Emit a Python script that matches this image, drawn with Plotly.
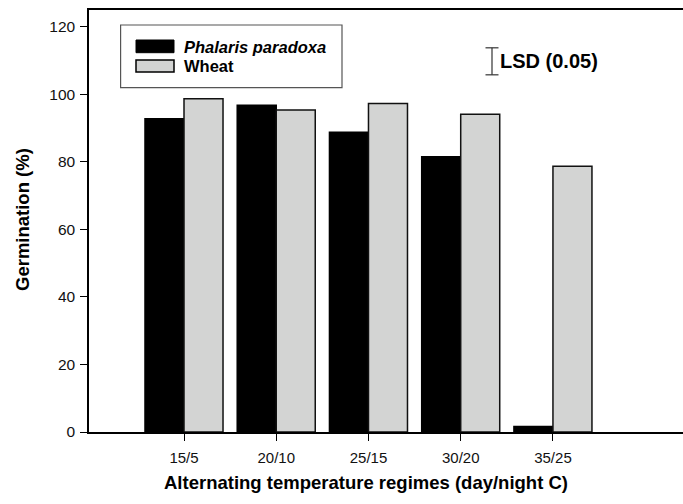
import plotly.graph_objects as go

categories = ["15/5", "20/10", "25/15", "30/20", "35/25"]
phalaris = [92.8, 96.8, 88.8, 81.5, 1.6]
wheat = [98.7, 95.4, 97.3, 94.1, 78.7]
series_names = ["Phalaris paradoxa", "Wheat"]
lsd_value = 8.0
lsd_center = 109.8
y_ticks = [0, 20, 40, 60, 80, 100, 120]

BLACK = "#000000"
GRAY = "#d3d4d3"
FONT = "Liberation Sans, Arial, sans-serif"

fig = go.Figure()
fig.add_trace(go.Bar(x=categories, y=phalaris, name=series_names[0],
                     marker=dict(color=BLACK, line=dict(color=BLACK, width=1.5))))
fig.add_trace(go.Bar(x=categories, y=wheat, name=series_names[1],
                     marker=dict(color=GRAY, line=dict(color="#111111", width=1.5))))

W, H = 683, 504
ml, mr, mt, mb = 89, 0, 10, 72
pw, ph = W - ml - mr, H - mt - mb

def px(x):
    return (x - ml) / pw

def py(y):
    return (H - mb - y) / ph

shapes = []
annotations = []
# legend box
shapes.append(dict(type="rect", xref="paper", yref="paper",
                   x0=px(120.6), x1=px(342), y0=py(87.7), y1=py(25),
                   line=dict(color="#555555", width=1.2), fillcolor="white", layer="above"))
shapes.append(dict(type="rect", xref="paper", yref="paper",
                   x0=px(136), x1=px(174), y0=py(52.7), y1=py(40),
                   line=dict(color=BLACK, width=1), fillcolor=BLACK, layer="above"))
shapes.append(dict(type="rect", xref="paper", yref="paper",
                   x0=px(136), x1=px(174), y0=py(72), y1=py(60),
                   line=dict(color=BLACK, width=1.5), fillcolor=GRAY, layer="above"))
annotations.append(dict(xref="paper", yref="paper", x=px(182), y=py(46.5),
                        text="<b><i>" + series_names[0] + "</i></b>", showarrow=False,
                        xanchor="left", yanchor="middle",
                        font=dict(family=FONT, size=16.5, color=BLACK)))
annotations.append(dict(xref="paper", yref="paper", x=px(182), y=py(66),
                        text="<b>" + series_names[1] + "</b>", showarrow=False,
                        xanchor="left", yanchor="middle",
                        font=dict(family=FONT, size=16.5, color=BLACK)))

# LSD bar
lx = px(492)
cap = 6.5 / pw
lo, hi = lsd_center - lsd_value / 2, lsd_center + lsd_value / 2
shapes.append(dict(type="line", xref="paper", yref="y", x0=lx, x1=lx, y0=lo, y1=hi,
                   line=dict(color="#333333", width=1.2)))
for yy in (lo, hi):
    shapes.append(dict(type="line", xref="paper", yref="y", x0=lx - cap, x1=lx + cap,
                       y0=yy, y1=yy, line=dict(color="#333333", width=1.2)))
annotations.append(dict(xref="paper", yref="y", x=px(498), y=lsd_center,
                        text="<b>LSD (0.05)</b>", showarrow=False,
                        xanchor="left", yanchor="middle",
                        font=dict(family=FONT, size=20, color=BLACK)))

# axis titles
annotations.append(dict(xref="paper", yref="paper", x=px(365.5), y=py(482),
                        text="<b>Alternating temperature regimes (day/night C)</b>",
                        showarrow=False, xanchor="center", yanchor="middle",
                        font=dict(family=FONT, size=18.5, color=BLACK)))
annotations.append(dict(xref="paper", yref="paper", x=px(22), y=py(220),
                        text="<b>Germination (%)</b>", textangle=-90,
                        showarrow=False, xanchor="center", yanchor="middle",
                        font=dict(family=FONT, size=18.5, color=BLACK)))

fig.update_layout(
    width=W, height=H,
    margin=dict(l=ml, r=mr, t=mt, b=mb, pad=0),
    paper_bgcolor="white", plot_bgcolor="white",
    barmode="group", bargap=0.154, bargroupgap=0,
    showlegend=False,
    shapes=shapes, annotations=annotations,
    font=dict(family=FONT, size=15, color="#111111"),
)
fig.update_xaxes(range=[-1.03, 5.41], showline=True, linecolor=BLACK, linewidth=1.5,
                 mirror=True, ticks="outside", ticklen=7, tickwidth=1, tickcolor=BLACK,
                 showgrid=False, zeroline=False, ticklabelstandoff=4,
                 tickfont=dict(family=FONT, size=15, color="#111111"))
fig.update_yaxes(range=[0, 125], tickvals=y_ticks, showline=True, linecolor=BLACK,
                 linewidth=1.5, ticks="outside", ticklen=7, tickwidth=1, tickcolor=BLACK,
                 showgrid=False, zeroline=False, ticklabelstandoff=2,
                 tickfont=dict(family=FONT, size=15.5, color="#111111"))

fig.write_html("out.html")
